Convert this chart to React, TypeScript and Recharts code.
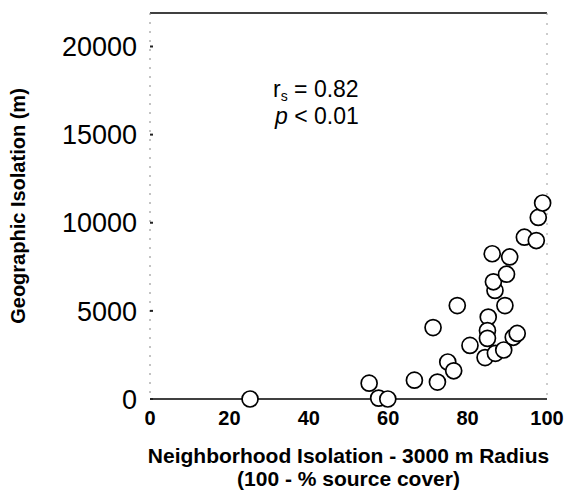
import React from "react";
import {
  ScatterChart,
  Scatter,
  XAxis,
  YAxis,
  ReferenceLine,
} from "recharts";

// Neighborhood isolation (100 - % source cover) for each site
const neighborhoodIsolation: number[] = [
  25.2, 55.2, 57.6, 59.9, 66.6, 72.4, 75.0, 76.5, 71.3, 77.4,
  80.6, 84.4, 85.2, 85.0, 85.0, 87.0, 89.1, 89.4, 86.9, 86.5,
  89.8, 86.2, 90.6, 91.5, 92.5, 94.3, 97.3, 97.8, 98.9,
];

// Geographic isolation (m) for the same sites
const geographicIsolation: number[] = [
  0, 900, 50, 0, 1070, 960, 2100, 1600, 4050, 5300,
  3040, 2350, 4650, 3880, 3440, 2590, 2780, 5300, 6160, 6650,
  7080, 8240, 8060, 3500, 3720, 9180, 8990, 10300, 11120,
];

const xTicks: number[] = [0, 20, 40, 60, 80, 100];
const yTicks: number[] = [0, 5000, 10000, 15000, 20000];

const points = neighborhoodIsolation.map((x, i) => ({
  x,
  y: geographicIsolation[i],
}));

const FONT = "'Liberation Sans', Arial, Helvetica, sans-serif";
const Y_MAX = 21900;

const YTick = (props: any) => {
  const { x, y, payload } = props;
  return (
    <g>
      <line x1={x + 13} x2={x + 16} y1={y} y2={y} stroke="#222" strokeWidth={2} />
      <text
        x={x}
        y={y}
        dy="0.36em"
        textAnchor="end"
        fontFamily={FONT}
        fontSize={27}
        fill="#000"
      >
        {payload.value}
      </text>
    </g>
  );
};

const RightTick = (props: any) => {
  const { x, y } = props;
  return <line x1={x - 3} x2={x} y1={y} y2={y} stroke="#222" strokeWidth={2} />;
};

const XTick = (props: any) => {
  const { x, y, payload } = props;
  return (
    <text
      x={x}
      y={y}
      dy="0.72em"
      textAnchor="middle"
      fontFamily={FONT}
      fontSize={20}
      fontWeight="bold"
      fill="#000"
    >
      {payload.value}
    </text>
  );
};

const Ring = (props: any) => {
  const { cx, cy } = props;
  return <circle cx={cx} cy={cy} r={8} fill="#fff" stroke="#000" strokeWidth={1.7} />;
};

const XTitle = (props: any) => {
  const vb = props.viewBox;
  const cx = vb.x + vb.width / 2;
  return (
    <g fontFamily={FONT} fontWeight="bold" fontSize={21} fill="#000" textAnchor="middle">
      <text x={cx} y={vb.y + 64}>Neighborhood Isolation - 3000 m Radius</text>
      <text x={cx} y={vb.y + 87}>(100 - % source cover)</text>
    </g>
  );
};

const YTitle = (props: any) => {
  const vb = props.viewBox;
  const cy = vb.y + vb.height / 2;
  const cx = 25;
  return (
    <text
      x={cx}
      y={cy}
      transform={`rotate(-90 ${cx} ${cy})`}
      textAnchor="middle"
      fontFamily={FONT}
      fontWeight="bold"
      fontSize={20}
      fill="#000"
    >
      Geographic Isolation (m)
    </text>
  );
};

export default function App() {
  return (
    <div style={{ position: "absolute", left: 0, top: 0, background: "#fff" }}>
      <ScatterChart
        width={567}
        height={504}
        margin={{ top: 13, right: 19, bottom: 75, left: 0 }}
      >
        <XAxis
          type="number"
          dataKey="x"
          domain={[0, 100]}
          ticks={xTicks}
          interval={0}
          axisLine={{ stroke: "#000", strokeWidth: 1.6 }}
          tickLine={false}
          tick={<XTick />}
          tickMargin={6}
          height={30}
          label={<XTitle />}
        />
        <YAxis
          type="number"
          dataKey="y"
          domain={[0, Y_MAX]}
          ticks={yTicks}
          interval={0}
          width={150}
          axisLine={{ stroke: "#888", strokeWidth: 1, strokeDasharray: "2 7" }}
          tickLine={false}
          tickSize={0}
          tickMargin={13}
          tick={<YTick />}
          label={<YTitle />}
        />
        <YAxis
          yAxisId="right"
          orientation="right"
          type="number"
          domain={[0, Y_MAX]}
          ticks={yTicks}
          interval={0}
          width={1}
          axisLine={{ stroke: "#999", strokeWidth: 1, strokeDasharray: "2 8" }}
          tickLine={false}
          tickSize={0}
          tickMargin={0}
          tick={<RightTick />}
        />
        <ReferenceLine y={Y_MAX} stroke="#000" strokeWidth={1.6} />
        <Scatter data={points} shape={<Ring />} isAnimationActive={false} />
        <g fontFamily={FONT} fontSize={23} fill="#000">
          <text x={273} y={97}>
            r<tspan dy={4} fontSize={14}>s</tspan>
            <tspan dy={-4}> = 0.82</tspan>
          </text>
          <text x={275} y={124}>
            <tspan fontStyle="italic">p</tspan> &lt; 0.01
          </text>
        </g>
      </ScatterChart>
    </div>
  );
}
